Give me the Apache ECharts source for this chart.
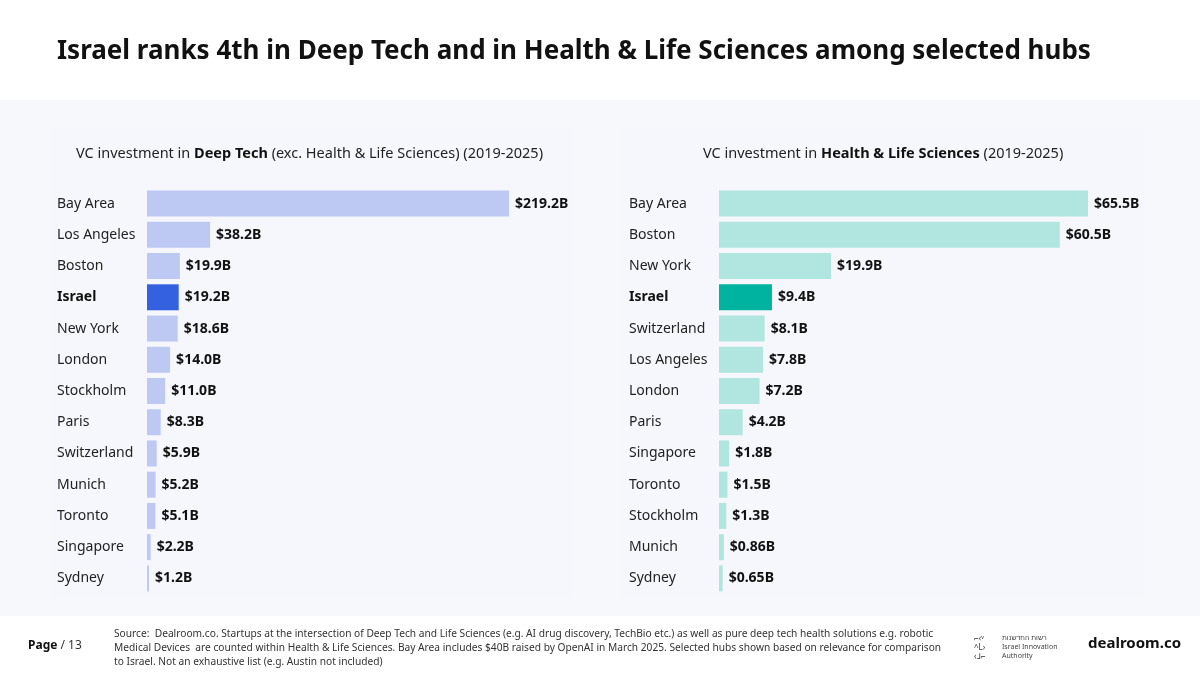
<!DOCTYPE html>
<html>
<head>
<meta charset="utf-8">
<script src="https://cdn.jsdelivr.net/npm/echarts@6/dist/echarts.min.js"></script>
<style>
  html, body { margin: 0; padding: 0; background: #fff; }
  #chart { width: 1200px; height: 675px; }
</style>
</head>
<body>
<div id="chart"></div>
<script>
// Deep Tech (exc. Health & Life Sciences), $B
const deepHubs = ['Bay Area', 'Los Angeles', 'Boston', 'Israel', 'New York', 'London', 'Stockholm',
  'Paris', 'Switzerland', 'Munich', 'Toronto', 'Singapore', 'Sydney'];
const deepValues = [219.2, 38.2, 19.9, 19.2, 18.6, 14.0, 11.0, 8.3, 5.9, 5.2, 5.1, 2.2, 1.2];
const deepLabels = ['$219.2B', '$38.2B', '$19.9B', '$19.2B', '$18.6B', '$14.0B', '$11.0B',
  '$8.3B', '$5.9B', '$5.2B', '$5.1B', '$2.2B', '$1.2B'];

// Health & Life Sciences, $B
const healthHubs = ['Bay Area', 'Boston', 'New York', 'Israel', 'Switzerland', 'Los Angeles', 'London',
  'Paris', 'Singapore', 'Toronto', 'Stockholm', 'Munich', 'Sydney'];
const healthValues = [65.5, 60.5, 19.9, 9.4, 8.1, 7.8, 7.2, 4.2, 1.8, 1.5, 1.3, 0.86, 0.65];
const healthLabels = ['$65.5B', '$60.5B', '$19.9B', '$9.4B', '$8.1B', '$7.8B', '$7.2B',
  '$4.2B', '$1.8B', '$1.5B', '$1.3B', '$0.86B', '$0.65B'];

const FONT = '"Source Sans Pro", "Noto Sans", sans-serif';
const chart = echarts.init(document.getElementById('chart'));

/** 构建一侧的类目轴 / 数值轴 / 系列 */
function makeSide(idx, hubs, values, labels, light, strong) {
  return {
    yAxis: {
      type: 'category', gridIndex: idx, data: hubs, inverse: true,
      axisLine: { show: false }, axisTick: { show: false },
      axisLabel: {
        align: 'left', margin: 90, fontSize: 14, color: '#222', fontFamily: FONT,
        formatter: v => v === 'Israel' ? '{b|' + v + '}' : v,
        rich: { b: { fontWeight: 'bold', fontSize: 14, color: '#111', fontFamily: FONT } }
      }
    },
    xAxis: { type: 'value', gridIndex: idx, min: 0, max: values[0], show: false },
    series: {
      type: 'bar', xAxisIndex: idx, yAxisIndex: idx, barWidth: 26,
      data: values.map((v, i) => ({ value: v, itemStyle: { color: hubs[i] === 'Israel' ? strong : light } })),
      label: {
        show: true, position: 'right', distance: 6, fontSize: 14, fontWeight: 'bold',
        color: '#111', fontFamily: FONT, formatter: p => labels[p.dataIndex]
      }
    }
  };
}

const left = makeSide(0, deepHubs, deepValues, deepLabels, '#bdc9f2', '#3461e0');
const right = makeSide(1, healthHubs, healthValues, healthLabels, '#b0e5e0', '#00b3a0');

chart.setOption({
  animation: false,
  textStyle: { fontFamily: FONT },
  graphic: [
    { type: 'rect', shape: { x: 0, y: 100, width: 1200, height: 516 }, style: { fill: '#f7f8fc' }, silent: true },
    { type: 'rect', shape: { x: 50, y: 128, width: 522, height: 470 }, style: { fill: '#f5f7fc' }, silent: true },
    { type: 'rect', shape: { x: 622, y: 128, width: 522, height: 470 }, style: { fill: '#f5f7fc' }, silent: true },
    { type: 'text', left: 57, top: 39, style: { text: 'Israel ranks 4th in Deep Tech and in Health & Life Sciences among selected hubs', fontSize: 26, fontWeight: 'bold', fill: '#111', fontFamily: FONT } },
    { type: 'text', left: 76, top: 146, style: {
        text: 'VC investment in {b|Deep Tech} (exc. Health & Life Sciences) (2019-2025)', fontSize: 14.5, fill: '#222', fontFamily: FONT,
        rich: { b: { fontWeight: 'bold', fontSize: 14.5, fill: '#111', fontFamily: FONT } } } },
    { type: 'text', left: 703, top: 146, style: {
        text: 'VC investment in {b|Health & Life Sciences} (2019-2025)', fontSize: 14.5, fill: '#222', fontFamily: FONT,
        rich: { b: { fontWeight: 'bold', fontSize: 14.5, fill: '#111', fontFamily: FONT } } } },
    { type: 'text', left: 28, top: 640, style: { text: '{b|Page} / 13', fontSize: 12, fill: '#333', fontFamily: FONT,
        rich: { b: { fontWeight: 'bold', fontSize: 12, fill: '#111', fontFamily: FONT } } } },
    { type: 'text', left: 114, top: 627, style: {
        text: 'Source:  Dealroom.co. Startups at the intersection of Deep Tech and Life Sciences (e.g. AI drug discovery, TechBio etc.) as well as pure deep tech health solutions e.g. robotic\nMedical Devices  are counted within Health & Life Sciences. Bay Area includes $40B raised by OpenAI in March 2025. Selected hubs shown based on relevance for comparison\nto Israel. Not an exhaustive list (e.g. Austin not included)',
        fontSize: 10.2, lineHeight: 14, fill: '#333', fontFamily: FONT } },
    { type: 'text', left: 974, top: 634, style: { text: '⌐‹ᵛ\n^L›\n‹⅃⌐', fontSize: 8, lineHeight: 9, fill: '#333', fontFamily: FONT } },
    { type: 'text', left: 1002, top: 633, style: { text: 'רשות החדשנות\nIsrael Innovation\nAuthority', fontSize: 7, lineHeight: 9, fill: '#444', fontFamily: FONT } },
    { type: 'text', left: 1088, top: 636, style: { text: 'dealroom.co', fontSize: 15, fontWeight: 'bold', fill: '#111', fontFamily: FONT } }
  ],
  grid: [
    { left: 147, top: 188, width: 362, height: 406 },
    { left: 719, top: 188, width: 369, height: 406 }
  ],
  xAxis: [left.xAxis, right.xAxis],
  yAxis: [left.yAxis, right.yAxis],
  series: [left.series, right.series]
});
</script>
</body>
</html>
